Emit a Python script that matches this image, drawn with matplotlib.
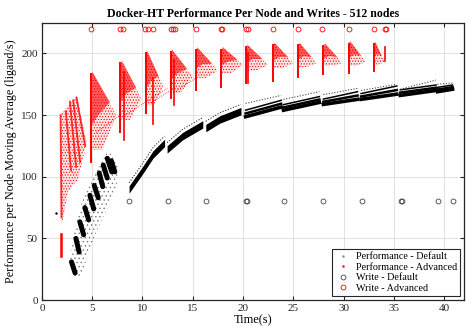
import numpy as np
import matplotlib.pyplot as plt
from matplotlib.patches import Polygon

plt.rcParams['font.family'] = ['Liberation Serif', 'DejaVu Serif']
plt.rcParams['hatch.linewidth'] = 0.5

# write events (time in s)
write_adv_t = [4.9, 7.8, 8.1, 10.3, 10.6, 11.0, 12.8, 13.0, 13.2, 15.3, 17.8, 17.95,
               20.3, 20.5, 23.0, 25.5, 27.9, 30.5, 33.0, 34.1, 34.2]
write_adv_y = 220
write_def_t = [8.7, 12.5, 16.3, 20.3, 20.4, 24.1, 28.0, 31.8, 35.7, 35.8, 39.4, 40.9]
write_def_y = 80

# advanced performance: bursts (wedges)
adv_x0 = [4.87, 7.8, 10.33, 12.8, 15.3, 17.85, 20.3, 23.0, 25.5, 28.0, 30.5, 33.0]
adv_peak = [185, 194, 202, 203, 205, 205, 207, 208.5, 208.5, 208, 210, 209.5]
adv_xend = [7.4, 9.9, 12.05, 15.0, 17.5, 20.0, 22.5, 25.0, 27.3, 29.9, 32.2, 34.1]
adv_yend = [150, 163, 173, 181, 186, 190.5, 190.5, 192, 192, 192, 193, 193]
adv_low = [122, 146, 158, 168, 180, 184, 186, 188, 189, 190, 190, 191]
adv_spike = [112, 136, 152, 164, 170, 173, 176, 178, 181, 183, 184, 186]
# extra vertical spikes
adv_sp2_x = [8.14, 11.0, 13.1, 20.45, 34.16]
adv_sp2_lo = [130, 143, 158, 176, 194]
adv_sp2_hi = [185, 180, 195, 200, 205.5]
# sparse trails below the bursts
adv_tr_x0 = [5.4, 8.3, 10.8, 13.4]
adv_tr_y0 = [136, 150, 160, 170]
adv_tr_x1 = [7.8, 12.5, 12.8, 15.3]
adv_tr_y1 = [150, 172, 170, 180]
# early streaks of the advanced run
adv_e_x0 = [1.85, 2.38, 2.78, 3.11, 3.45]
adv_e_y0 = [150, 153, 161, 162, 164]
adv_e_x1 = [1.95, 2.9, 3.4, 3.8, 4.3]
adv_e_y1 = [67, 105, 108, 112, 125]
adv_low_seg = [36, 54]

# default performance: early streaks
def_e_x0 = [2.94, 3.38, 3.77, 4.27, 4.77, 5.2, 5.7, 6.1, 6.5, 6.9]
def_e_y0 = [31, 50, 63.5, 75, 85, 93, 103, 109.5, 115, 113]
def_e_x1 = [3.3, 3.7, 4.15, 4.65, 5.15, 5.6, 6.05, 6.5, 6.95, 7.25]
def_e_y1 = [22, 39, 53, 65, 74, 83, 92, 99, 104, 104]
# default performance: continuous curve pieces
def_c_x = [[8.67, 10.06, 11.05, 12.2], [12.45, 14.0, 16.0], [16.3, 17.7, 19.8]]
def_c_y = [[89.2, 105.4, 117.6, 127], [121.7, 132.5, 142], [139, 146, 152.7]]
# default performance: banded pieces
band_x0 = [20.26, 24.03, 28.0, 31.75, 35.65, 39.35]
band_x1 = [23.8, 27.6, 31.4, 35.3, 39.2, 40.85]
band_lo0 = [148.7, 154, 158.7, 162.8, 166, 169]
band_lo1 = [156.5, 160.3, 162.8, 167, 170, 171]
band_hi0 = [154, 158.5, 163, 167.5, 170.5, 172.5]
band_hi1 = [162, 165, 169, 173.6, 174.4, 174.4]
band_dot0 = [159.5, 162.7, 166.6, 170, 171, 175]
band_dot1 = [166, 169, 171.7, 175, 178.4, 176]

fig = plt.figure(figsize=(4.66, 3.28), dpi=100)
ax = fig.add_axes([0.09, 0.085, 0.906, 0.846])

red = '#ff0000'
speck = (0, (1, 1.5))

# ---- default (black) ----
cloud = Polygon([(2.8, 33), (3.0, 19), (3.9, 18), (4.6, 38), (5.4, 55), (6.4, 72),
                 (7.4, 90), (7.6, 108), (7.1, 119), (6.4, 119), (5.0, 98),
                 (4.0, 80), (3.2, 56)], closed=True, fill=False, hatch='....',
                edgecolor='#777777', linewidth=0)
ax.add_patch(cloud)
for x0, y0, x1, y1 in zip(def_e_x0, def_e_y0, def_e_x1, def_e_y1):
    ax.plot([x0, x1], [y0, y1], color='k', lw=3.6, solid_capstyle='round')
ax.plot([1.36], [70.8], '.', color='k', ms=1.5)

for xs, ys in zip(def_c_x, def_c_y):
    xs = np.array(xs)
    ys = np.array(ys)
    ax.fill_between(xs, ys - 2.5, ys + 3.5, color='k', lw=0)
    ax.plot(xs, ys + 6, ls=speck, color='#333333', lw=0.8)

for i in range(len(band_x0)):
    xs = [band_x0[i], band_x1[i]]
    lo = np.array([band_lo0[i], band_lo1[i]])
    hi = np.array([band_hi0[i], band_hi1[i]])
    ax.plot(xs, lo, color='k', lw=2.6)
    ax.plot(xs, (lo + hi) / 2, color='k', lw=1.8)
    ax.plot(xs, hi, color='k', lw=1.1)
    ax.plot(xs, [band_dot0[i], band_dot1[i]], ls=speck, color='#444444', lw=0.8)

# ---- advanced (red) ----
acloud = Polygon([(1.85, 150), (3.45, 166), (4.45, 128), (3.6, 98), (2.6, 88),
                  (2.0, 62), (1.85, 67)], closed=True, facecolor='#ffe4e4',
                 hatch='......', edgecolor=red, linewidth=0)
ax.add_patch(acloud)
for x0, y0, x1, y1 in zip(adv_e_x0, adv_e_y0, adv_e_x1, adv_e_y1):
    ax.plot([x0, x1], [y0, y1], color=red, lw=1.3, alpha=0.8)
ax.plot([1.85, 1.85], adv_low_seg, color=red, lw=1.8)

for x0, y0, x1, y1 in zip(adv_tr_x0, adv_tr_y0, adv_tr_x1, adv_tr_y1):
    ax.plot([x0, x1], [y0, y1], ls=speck, color=red, lw=0.6)

for i in range(len(adv_x0)):
    x0, pk, xe, ye, lowv = adv_x0[i], adv_peak[i], adv_xend[i], adv_yend[i], adv_low[i]
    w = xe - x0
    outer = Polygon([(x0, lowv), (x0, pk - 3), (x0 + 0.15, pk), (xe, ye),
                     (x0 + 0.45 * w, lowv)], closed=True, facecolor='#ffe4e4',
                    hatch='......', edgecolor=red, linewidth=0)
    ax.add_patch(outer)
    core = Polygon([(x0, pk - 3), (x0 + 0.15, pk),
                    (x0 + 0.75 * w, ye + 0.3 * (pk - ye)),
                    (x0 + 0.3 * w, lowv + 0.45 * (pk - lowv)),
                    (x0, lowv + 0.3 * (pk - lowv))], closed=True,
                   facecolor=red, alpha=0.6, linewidth=0)
    ax.add_patch(core)
    ax.plot([x0, x0], [adv_spike[i], pk - 2], color=red, lw=1.4)

for x, lo, hi in zip(adv_sp2_x, adv_sp2_lo, adv_sp2_hi):
    ax.plot([x, x], [lo, hi], color=red, lw=1.2)

# ---- writes ----
ax.plot(write_def_t, [write_def_y] * len(write_def_t), 'o', mfc='none', mec='#444444',
        ms=3.5, mew=0.6, ls='none')
ax.plot(write_adv_t, [write_adv_y] * len(write_adv_t), 'o', mfc='none', mec=red,
        ms=3.5, mew=0.6, ls='none')

# legend proxies
ax.plot([], [], '.', color='#888888', ms=1.5, ls='none', label='Performance - Default')
ax.plot([], [], '.', color=red, ms=1.5, ls='none', label='Performance - Advanced')
ax.plot([], [], 'o', mfc='none', mec='#444444', ms=3.5, mew=0.6, ls='none',
        label='Write - Default')
ax.plot([], [], 'o', mfc='none', mec=red, ms=3.5, mew=0.6, ls='none',
        label='Write - Advanced')
leg = ax.legend(loc='lower right', fontsize=7.3, frameon=True, fancybox=False,
                borderpad=0.3, labelspacing=0.15, handletextpad=0.6,
                handlelength=1.4, borderaxespad=0.4)
leg.get_frame().set_edgecolor('#262626')
leg.get_frame().set_linewidth(0.8)
leg.get_frame().set_alpha(1)

ax.set_xlim(0, 42)
ax.set_ylim(0, 225)
ax.set_xticks(np.arange(0, 41, 5))
ax.set_yticks(np.arange(0, 201, 50))
ax.grid(True, color='#dddddd', lw=0.6)
ax.set_axisbelow(True)
ax.tick_params(direction='in', top=True, right=True, length=3, labelsize=8,
               colors='#262626', pad=3)
for s in ax.spines.values():
    s.set_linewidth(0.9)
    s.set_color('#262626')

ax.set_title('Docker-HT Performance Per Node and Writes - 512 nodes',
             fontsize=8.5, fontweight='bold', pad=4)
ax.set_xlabel('Time(s)', fontsize=9, labelpad=1)
ax.set_ylabel('Performance per Node Moving Average (ligand/s)', fontsize=8.7, labelpad=3)

fig.savefig('out.png', dpi=100)
